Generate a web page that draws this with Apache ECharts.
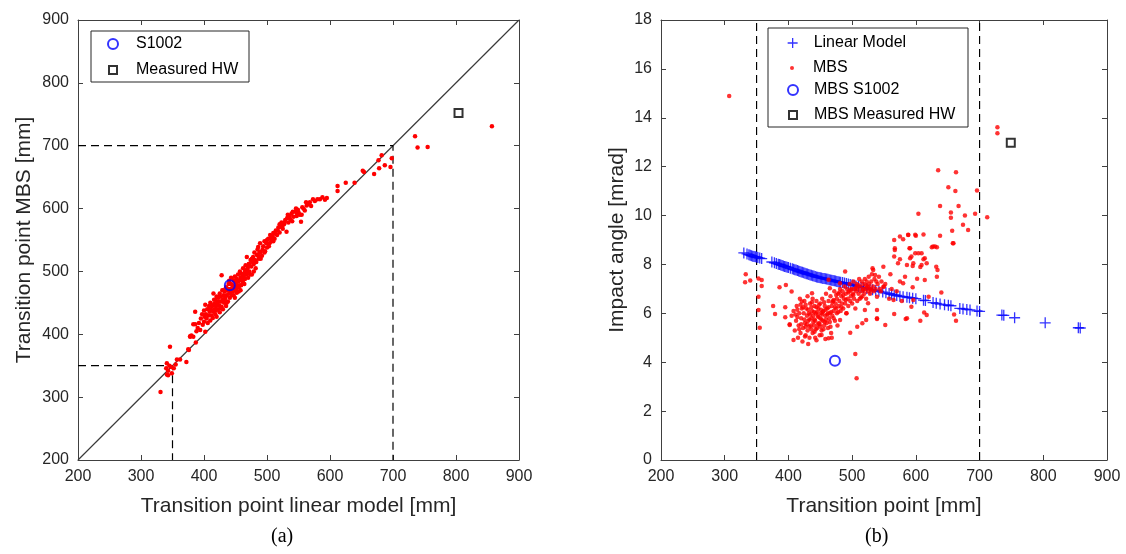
<!DOCTYPE html>
<html>
<head>
<meta charset="utf-8">
<script src="https://cdn.jsdelivr.net/npm/echarts@6/dist/echarts.min.js"></script>
<style>
html,body{margin:0;padding:0;background:#fff;}
#chart{width:1126px;height:554px;}
</style>
</head>
<body>
<div id="chart"></div>
<script>
// ---------- DATA ----------
// Panel (a): [transition point linear model, transition point MBS] in mm
const leftMbsPairs = [
[331,308],[341,336],[343,342],[345,350],[346,380],[341,354],[340,346],[343,335],[349,338],[348,348],[352,346],[355,352],[357,360],[362,360],[372,356],
[375,376],[376,375],[378,396],[378,397],[380,398],[383,416],[383,396],[386,436],[386,416],[387,387],[388,405],[390,410],[392,418],[394,407],[395,425],
[397,432],[398,415],[400,420],[400,438],[401,428],[402,404],[402,447],[403,432],[404,425],[405,440],[406,418],[407,430],[408,445],[409,436],[410,422],
[410,450],[411,440],[412,430],[413,445],[414,426],[415,465],[415,436],[416,448],[417,440],[418,455],[418,432],[419,445],[420,428],[420,460],[421,450],
[422,440],[423,458],[424,446],[425,435],[425,465],[426,452],[427,460],[428,494],[428,444],[429,470],[430,455],[430,440],[431,462],[432,450],[433,468],
[434,458],[435,445],[435,475],[436,462],[437,470],[438,452],[439,480],[440,465],[440,485],[441,458],[442,472],[443,490],[444,462],[445,478],[446,468],
[447,486],[448,475],[449,458],[449,492],[450,482],[451,470],[452,488],[453,478],[454,495],[455,468],[456,485],[457,500],[458,490],[459,478],[460,496],
[461,486],[462,505],[463,492],[464,480],[465,500],[466,510],[467,495],[468,523],[469,505],[470,490],[471,512],[472,500],[474,518],[475,508],[476,495],
[478,523],[479,512],[480,530],[481,518],[482,505],[484,526],[485,535],[486,539],[487,520],[488,530],[489,545],[490,531],[492,525],[494,540],[496,548],
[497,532],[499,545],[500,538],[502,552],[504,545],[505,558],[507,548],[509,555],[510,561],[512,552],[514,565],[516,558],[518,570],[520,562],[521,571],
[523,578],[525,568],[527,575],[529,582],[531,563],[532,585],[534,578],[537,583],[539,592],[540,580],[542,587],[545,595],[547,588],[549,598],[552,590],
[554,579],[555,590],[556,602],[560,597],[563,605],[565,607],[568,610],[570,604],[573,615],[576,612],[580,615],[584,615],[588,618],[592,614],[595,617],
[612,636],[612,628],[625,641],[639,641],[652,660],[654,658],[670,655],[677,677],[678,664],[682,685],[687,669],[696,666],[698,680],[735,715],[739,697],
[755,698],[857,731],
[412,438],[416,455],[419,438],[422,452],[424,460],[426,442],[429,452],[431,470],[433,456],[436,450],[438,472],[441,466],[443,480],[445,470],[447,462],
[450,474],[452,466],[454,484],[457,478],[459,488],[462,482],[464,495],[467,502],[470,508],[473,495],[477,515],
[455,475],[458,470],[461,492],[465,488],[468,498],[472,512],[476,520],[479,500],[483,515],[486,525],[490,520],[493,535],[496,530],[500,550],[503,540],
[506,552],[510,548],[513,560],[517,565],[520,575],[524,572],[528,578],[533,590],[536,588],[541,595],[546,600],[550,594],[558,600],[562,610],[548,592]
];
const leftS1002 = [[441,478]];
const leftMeasuredHW = [[804,752]];
const leftDiagonal = [[200,200],[900,900]];
const leftDash700 = [[200,700],[700,700],[700,200]];
const leftDash350 = [[200,350],[350,350],[350,200]];

// Panel (b): [transition point, impact angle]
const rightLinearModel = [
[330,8.47],[335,8.43],[338,8.40],[340,8.38],[342,8.36],[344,8.34],[346,8.32],[348,8.31],[350,8.30],[352,8.28],[355,8.26],[358,8.24],
[374,8.10],[378,8.07],[381,8.04],[384,8.01],[386,8.00],[388,7.98],[390,7.96],[392,7.94],[394,7.92],[396,7.91],[398,7.89],[400,7.87],
[403,7.84],[406,7.82],[408,7.80],[410,7.78],[412,7.77],[414,7.75],[416,7.73],[418,7.71],[420,7.69],[422,7.68],[424,7.66],[426,7.64],
[428,7.62],[430,7.61],[432,7.59],[434,7.57],[436,7.56],[438,7.54],[440,7.53],[442,7.51],[444,7.49],[446,7.48],[448,7.47],[450,7.46],
[452,7.45],[454,7.43],[456,7.42],[458,7.41],[460,7.40],[462,7.39],[464,7.37],[466,7.36],[468,7.35],[470,7.34],[472,7.33],[474,7.32],
[476,7.30],[478,7.29],[480,7.28],[482,7.27],[485,7.26],[488,7.24],[491,7.22],[494,7.20],[497,7.18],[500,7.16],[503,7.14],[506,7.12],
[510,7.10],[514,7.07],[518,7.05],[523,7.02],[528,6.99],[532,6.96],[537,6.93],[542,6.90],[548,6.87],[553,6.84],[558,6.81],[562,6.78],
[566,6.75],[570,6.73],[575,6.70],[580,6.68],[586,6.66],[590,6.64],[595,6.62],[600,6.60],[612,6.54],[615,6.52],[627,6.44],[632,6.41],
[638,6.38],[645,6.35],[651,6.33],[655,6.31],[669,6.20],[674,6.18],[680,6.16],[685,6.14],[696,6.10],[700,6.08],[735,5.93],[738,5.92],
[755,5.82],[803,5.61],[855,5.41],[858,5.40]
];
const rightMbs = [
[307,14.89],[728,13.61],[728,13.37],
[635,11.85],[663,11.77],[651,11.16],[662,11.00],[696,11.03],[604,10.07],[638,10.39],[667,10.39],[693,10.07],[712,9.93],[655,10.12],[655,9.91],
[677,10.00],[674,9.62],[682,9.41],[657,9.38],[638,9.17],[658,8.87],[612,9.23],[588,9.20],[566,9.00],[580,9.03],[600,9.17],[625,8.70],[633,8.70],
[590,8.66],[604,8.46],[567,8.59],[612,8.21],[617,8.05],[632,7.91],[634,7.77],[595,7.94],[575,8.21],[591,8.25],[586,7.98],[549,7.91],[602,7.41],
[595,7.07],[532,7.84],[566,5.97],[584,5.77],[607,5.70],[613,6.03],[552,5.52],[539,5.77],[522,5.73],[516,5.59],[508,5.45],[497,5.21],[505,4.34],[507,3.34],
[333,7.60],[332,7.27],[340,7.34],[353,7.43],[358,7.36],[358,7.12],[353,6.68],[353,6.14],[355,5.41],
[376,6.30],[379,5.97],[386,7.07],[396,7.16],[395,6.25],[395,5.84],[402,5.52],[408,4.91],[405,6.89],[421,6.48],[426,5.05],[437,6.82],[452,5.11],
[463,4.98],[465,7.03],[463,7.37],[481,7.23],[489,7.71],[481,5.73],[491,6.00],
[520,6.14],[525,6.41],[533,7.77],[536,7.57],[539,6.68],[539,6.14],[549,7.09],[567,8.66],[566,8.32],[572,8.05],[575,9.14],[583,7.50],[580,7.23],
[588,9.21],[591,8.66],[599,8.46],[596,8.05],[599,9.21],[609,8.46],[609,7.98],[614,8.25],[627,8.73],[620,6.68],[586,5.80],[539,5.80],
[545,6.90],[552,7.20],[558,6.60],[562,7.00],[570,6.90],[575,7.30],[578,6.50],[593,6.27],[617,5.93],[560,7.60],[607,7.90],[614,7.36],[593,8.32],
[565,6.55],[596,6.55],[630,8.73],[633,7.50],[659,8.87],[640,6.85],[660,5.95],[663,5.70],
[402,5.55],[405,5.90],[408,6.10],[410,5.30],[412,5.70],[413,6.30],[415,5.00],[416,5.50],[417,6.00],[418,6.60],[419,5.20],[420,5.80],[421,6.20],
[422,4.85],[423,5.40],[424,6.00],[425,6.50],[426,5.60],[427,5.10],[428,6.20],[429,5.90],[430,5.30],[430,6.70],[431,5.70],[432,6.00],[433,5.00],
[434,6.40],[435,5.50],[436,5.80],[437,6.10],[438,5.20],[438,6.60],[439,5.90],[440,5.50],[441,6.30],[442,5.00],[442,5.70],[443,6.00],[444,6.50],
[445,5.40],[446,5.90],[447,6.20],[448,5.60],[449,5.10],[450,6.40],[450,5.80],[451,6.00],[452,5.30],[453,6.60],[454,5.70],[455,6.10],[456,5.50],
[457,6.30],[458,4.95],[458,5.90],[459,6.80],[460,5.60],[461,6.20],[462,5.40],[463,6.50],[464,5.80],[465,6.00],[466,6.70],[467,5.20],[468,6.30],
[469,5.90],[470,6.50],[471,6.10],[472,6.90],[473,5.70],[474,6.40],[475,6.20],[476,6.60],[477,5.50],[478,6.80],[479,6.30],[480,6.50],[481,7.00],
[482,6.10],[483,6.70],[484,6.40],[485,6.90],[486,6.20],[487,6.60],[488,7.10],[489,6.40],[490,6.80],[491,6.00],[492,7.00],[493,6.60],[494,6.30],
[495,6.90],[496,7.20],[497,6.50],[498,6.70],[499,7.00],[500,6.40],[501,6.80],[502,7.30],[503,6.60],[504,7.00],[505,6.20],[506,6.90],[507,7.20],
[508,6.50],[509,7.00],[510,6.80],[511,7.40],[512,6.60],[513,7.10],[514,6.90],[515,7.30],[516,6.70],[517,7.00],[518,7.20],[519,6.80],[520,7.40],
[521,7.00],[522,6.60],[523,7.30],[524,7.10],[525,6.90],[526,7.50],[527,7.20],[528,6.80],[529,7.00],[530,7.30],[531,7.60],[533,7.10],[534,6.90],
[535,7.40],[537,7.00],[538,7.30],[540,7.20],[542,7.50],[544,7.00],[546,7.30],[550,7.10],
[414,5.85],[419,6.35],[427,5.45],[433,5.75],[436,6.25],[441,5.25],[445,6.05],[449,5.55],[453,5.95],[457,5.65],[462,6.00],[466,5.45],[471,5.80],
[476,6.00],[444,4.90],[431,4.75],[468,5.00],
[411,5.95],[414,6.15],[417,5.35],[420,5.55],[423,6.25],[425,5.75],[427,6.35],[429,5.55],[431,6.15],[433,5.45],[434,5.95],[436,5.35],[437,6.45],
[439,5.65],[440,6.05],[441,5.75],[443,5.35],[444,6.25],[446,5.55],[447,5.85],[448,6.35],[450,5.45],[451,6.15],[452,5.75],[454,6.05],[455,5.35],
[456,6.45],[458,6.15],[459,5.75],[461,5.95],[463,6.25],[465,5.65],[467,6.05],[469,6.45],[471,6.55],[473,6.25],[475,6.75],[478,6.05],[480,6.85],
[483,6.25],[486,6.75],[490,6.55],[494,6.85],[498,6.95],[502,6.75],[506,7.05],[510,7.15],[514,6.65],[518,6.95],[522,7.15],[526,7.05],[530,6.95]
];
const rightS1002 = [[473,4.06]];
const rightMeasuredHW = [[749,12.98]];
const rightDash350 = [[350,0],[350,18]];
const rightDash700 = [[700,0],[700,18]];

const leftAxisRange = {min:200, max:900, interval:100};
const rightXRange = {min:200, max:900, interval:100};
const rightYRange = {min:0, max:18, interval:2};

// ---------- CHART ----------
const FONT = 'Liberation Sans, Arial, sans-serif';
const AX = '#404040';
const chart = echarts.init(document.getElementById('chart'), null, {renderer:'canvas'});

function mkAxis(grid, pos, range, labels, name, nameGap){
  return {
    type:'value', gridIndex:grid, position:pos,
    min:range.min, max:range.max, interval:range.interval,
    axisLine:{show:true, onZero:false, lineStyle:{color:AX, width:1}},
    axisTick:{show:true, inside:true, length:5, lineStyle:{color:AX}},
    splitLine:{show:false},
    axisLabel:{show:labels, fontSize:16, color:'#262626', fontFamily:FONT, margin:9},
    name: name || '', nameLocation:'middle', nameGap: nameGap || 0,
    nameTextStyle:{fontSize:21, color:'#262626', fontFamily:FONT}
  };
}

function legendItem(name, style, left, top, size, pad){
  return {data:[{name:name, itemStyle:style}], left:left, top:top, padding:0,
    itemWidth:size, itemHeight:size, orient:'horizontal',
    textStyle:{fontSize:16, color:'#000', fontFamily:FONT, padding:[0,0,0,pad]}};
}

const plus = 'path://M0,5L10,5M5,0L5,10';
const blueRing = {color:'rgba(0,0,0,0)', borderColor:'#0000ff', borderWidth:2};
const blackSquare = {color:'#fff', borderColor:'#000', borderWidth:2};
const bluePlus = {color:'rgba(0,0,0,0)', borderColor:'#0000ff', borderWidth:1.3};
const redDot = {color:'#ff0000', borderWidth:0};

const option = {
  animation:false,
  backgroundColor:'#fff',
  grid:[
    {left:78, top:20, width:441, height:440},
    {left:661, top:20, width:446, height:440}
  ],
  xAxis:[
    mkAxis(0,'bottom',leftAxisRange,true,'Transition point linear model [mm]',36),
    mkAxis(0,'top',leftAxisRange,false),
    mkAxis(1,'bottom',rightXRange,true,'Transition point [mm]',36),
    mkAxis(1,'top',rightXRange,false)
  ],
  yAxis:[
    mkAxis(0,'left',leftAxisRange,true,'Transition point MBS [mm]',43),
    mkAxis(0,'right',leftAxisRange,false),
    mkAxis(1,'left',rightYRange,true,'Impact angle [mrad]',33),
    mkAxis(1,'right',rightYRange,false)
  ],
  legend:[
    legendItem('S1002', blueRing, 107, 36, 10, 13),
    legendItem('Measured HW', blackSquare, 108, 62, 8, 14),
    legendItem('Linear Model', bluePlus, 787, 35, 10, 11),
    legendItem('MBS', redDot, 790, 60, 4, 14),
    legendItem('MBS S1002', blueRing, 787, 82, 10, 11),
    legendItem('MBS Measured HW', blackSquare, 788, 107, 8, 12)
  ],
  graphic:[
    {type:'rect', shape:{x:91, y:31, width:158, height:51}, style:{fill:'#fff', stroke:'#262626', lineWidth:1}, z:-1, silent:true},
    {type:'rect', shape:{x:768, y:28, width:200, height:99}, style:{fill:'#fff', stroke:'#262626', lineWidth:1}, z:-1, silent:true},
    {type:'text', left:271, top:527, style:{text:'(a)', fontSize:20, fontFamily:'Liberation Serif, Times New Roman, serif', fill:'#000'}},
    {type:'text', left:865, top:527, style:{text:'(b)', fontSize:20, fontFamily:'Liberation Serif, Times New Roman, serif', fill:'#000'}}
  ],
  series:[
    {type:'line', xAxisIndex:0, yAxisIndex:0, data:leftDiagonal, symbol:'none', silent:true,
     lineStyle:{color:'#3a3a3a', width:1.2}, z:1},
    {type:'line', xAxisIndex:0, yAxisIndex:0, data:leftDash700, symbol:'none', silent:true,
     lineStyle:{color:'#000', width:1.2, type:[8,5]}, z:1},
    {type:'line', xAxisIndex:0, yAxisIndex:0, data:leftDash350, symbol:'none', silent:true,
     lineStyle:{color:'#000', width:1.2, type:[8,5]}, z:1},
    {name:'MBS points', type:'scatter', xAxisIndex:0, yAxisIndex:0, data:leftMbsPairs, symbol:'circle', symbolSize:4.5,
     itemStyle:{color:'#ff0000', opacity:1}, z:2},
    {name:'S1002', type:'scatter', xAxisIndex:0, yAxisIndex:0, data:leftS1002, symbol:'circle', symbolSize:10,
     itemStyle:blueRing, z:3},
    {name:'Measured HW', type:'scatter', xAxisIndex:0, yAxisIndex:0, data:leftMeasuredHW, symbol:'rect', symbolSize:8,
     itemStyle:blackSquare, z:3},

    {type:'line', xAxisIndex:2, yAxisIndex:2, data:rightDash350, symbol:'none', silent:true,
     lineStyle:{color:'#000', width:1.2, type:[8,5]}, z:1},
    {type:'line', xAxisIndex:2, yAxisIndex:2, data:rightDash700, symbol:'none', silent:true,
     lineStyle:{color:'#000', width:1.2, type:[8,5]}, z:1},
    {name:'Linear Model', type:'scatter', xAxisIndex:2, yAxisIndex:2, data:rightLinearModel, symbol:plus, symbolSize:11,
     itemStyle:bluePlus, z:2},
    {name:'MBS', type:'scatter', xAxisIndex:2, yAxisIndex:2, data:rightMbs, symbol:'circle', symbolSize:4.5,
     itemStyle:redDot, z:3},
    {name:'MBS S1002', type:'scatter', xAxisIndex:2, yAxisIndex:2, data:rightS1002, symbol:'circle', symbolSize:10,
     itemStyle:blueRing, z:4},
    {name:'MBS Measured HW', type:'scatter', xAxisIndex:2, yAxisIndex:2, data:rightMeasuredHW, symbol:'rect', symbolSize:8,
     itemStyle:blackSquare, z:4}
  ]
};
chart.setOption(option);
</script>
</body>
</html>
